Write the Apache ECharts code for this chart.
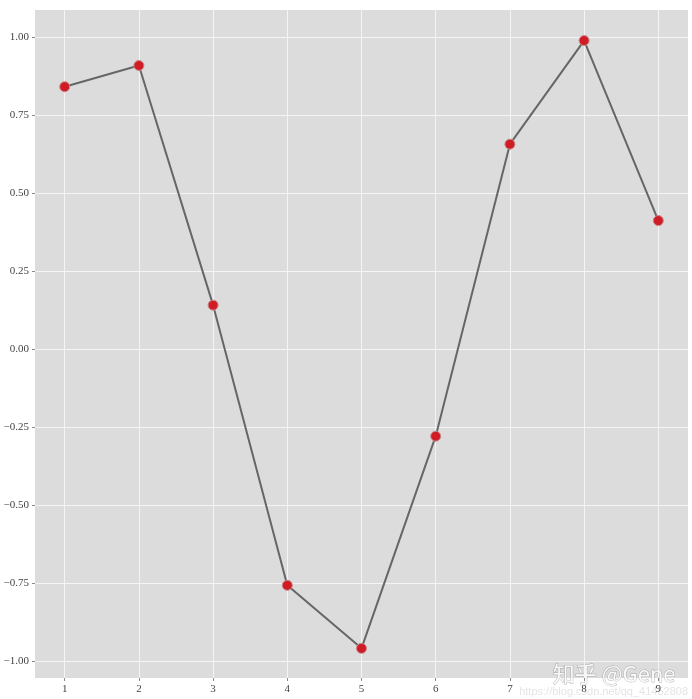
<!DOCTYPE html>
<html>
<head>
	<meta charset="UTF-8">
	<title>sin</title>
	<script src="https://cdn.jsdelivr.net/npm/echarts@6/dist/echarts.min.js"></script>
	<style>
		html, body { margin:0; padding:0; background:#fff; }
		#chart { width:692px; height:699px; }
	</style>
</head>
<body>
<div id="chart"></div>
<script type="text/javascript">
	var xValues = [1, 2, 3, 4, 5, 6, 7, 8, 9];
	var yValues = [0.841, 0.909, 0.141, -0.757, -0.959, -0.279, 0.657, 0.989, 0.412];
	var xTicks = [1, 2, 3, 4, 5, 6, 7, 8, 9];
	var yTicks = [-1, -0.75, -0.5, -0.25, 0, 0.25, 0.5, 0.75, 1];

	var chart = echarts.init(document.getElementById('chart'));
	var points = [];
	for (var i = 0; i < xValues.length; i++) points.push([xValues[i], yValues[i]]);

	var labelFont = 'Liberation Serif, DejaVu Serif, serif';
	var option =
	{
		animation: false,
		backgroundColor: '#ffffff',
		grid: { left: 35, right: 4, top: 10, bottom: 21, show: true, backgroundColor: '#dcdcdc', borderWidth: 0 },
		xAxis:
		{
			type: 'value',
			min: 0.6,
			max: 9.4,
			axisLine: { show: false, onZero: false },
			axisTick: { show: true, length: 3, customValues: xTicks, lineStyle: { color: '#8a8a8a' } },
			axisLabel: { customValues: xTicks, color: '#444', fontFamily: labelFont, fontSize: 11, margin: 6 },
			splitLine: { show: true, lineStyle: { color: '#f4f4f4', width: 1 } }
		},
		yAxis:
		{
			type: 'value',
			min: -1.054,
			max: 1.087,
			axisLine: { show: false, onZero: false },
			axisTick: { show: true, length: 3, customValues: yTicks, lineStyle: { color: '#8a8a8a' } },
			axisLabel:
			{
				customValues: yTicks,
				color: '#444',
				fontFamily: labelFont,
				fontSize: 11,
				margin: 6,
				formatter: function(v) { return v.toFixed(2).replace('-', '\u2212'); }
			},
			splitLine: { show: true, lineStyle: { color: '#f4f4f4', width: 1 } }
		},
		graphic:
		[
			{ type: 'text', right: 16, bottom: 14, style: { text: '知乎 @Gene', font: '22px "Noto Sans CJK SC", sans-serif', fill: 'rgba(255,255,255,0.9)', stroke: 'rgba(120,120,120,0.5)', lineWidth: 1 } },
			{ type: 'text', right: 4, bottom: 2, style: { text: 'https://blog.csdn.net/qq_41452808', font: '11px sans-serif', fill: 'rgba(205,205,205,0.55)' } }
		],
		series:
		[{
			type: 'line',
			data: points,
			symbol: 'circle',
			symbolSize: 10,
			lineStyle: { color: '#666666', width: 2 },
			itemStyle: { color: '#d01c24', borderColor: '#c98a8d', borderWidth: 1 },
			z: 3
		}]
	};
	chart.setOption(option);
</script>
</body>
</html>
